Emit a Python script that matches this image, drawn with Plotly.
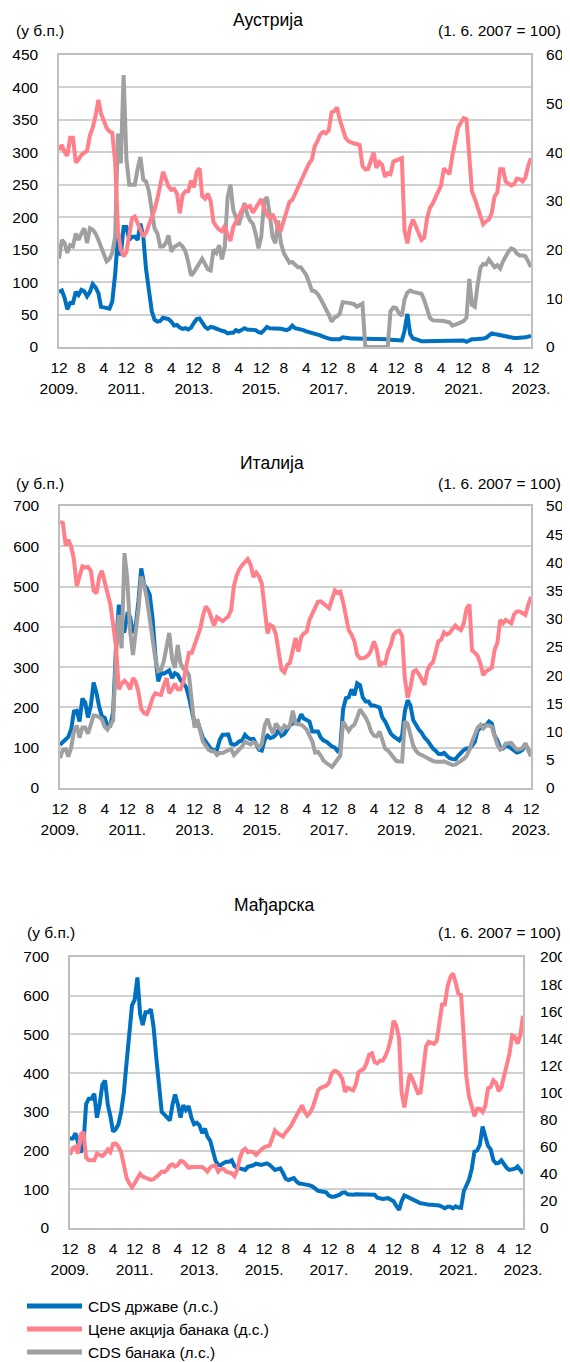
import pandas as pd
import plotly.graph_objects as go
from plotly.subplots import make_subplots

# monthly observations, Dec 2009 - Dec 2023
months = pd.date_range("2009-12-01", "2023-12-01", freq="MS")

# ---------------- Аустрија ----------------
aut_gov = [85,
    87, 75, 58, 68, 68, 85, 80, 88, 86, 78, 85, 97,
    92, 83, 62, 61, 60, 59, 70, 112, 170, 141, 185, 185,
    165, 170, 170, 165, 190, 170, 120, 85, 55, 42, 39, 40,
    45, 44, 43, 39, 33, 34, 30, 28, 29, 27, 30, 37,
    43, 44, 38, 31, 28, 31, 30, 28, 26, 25, 24, 21,
    22, 22, 26, 24, 26, 29, 27, 27, 27, 26, 23, 22,
    26, 31, 29, 29, 28, 28, 28, 27, 26, 28, 33, 29,
    28, 28, 26, 24, 23, 22, 20, 19, 18, 16, 14, 13,
    12, 12, 12, 12, 15, 14, 14, 13, 13, 13, 13, 13,
    13, 12, 12, 12, 12, 12, 12, 12, 12, 11, 11, 10,
    10, 10, 25, 51, 20, 13, 12, 10, 9, 9, 9, 10,
    10, 10, 10, 10, 10, 10, 10, 10, 10, 10, 10, 10,
    8, 11, 12, 12, 12, 12, 13, 14, 17, 21, 20, 19,
    18, 17, 17, 15, 14, 14, 14, 14, 15, 15, 16, 17]

aut_shares = [40.5,
    41.5, 40.0, 39.3, 43.0, 43.0, 37.9, 38.5, 39.5, 40.0, 40.3, 43.5, 45.0,
    47.5, 50.8, 48.0, 46.5, 45.0, 44.3, 44.0, 38.0, 24.0, 20.0, 18.6, 19.5,
    22.5, 26.5, 26.8, 25.5, 23.8, 22.7, 23.5, 25.0, 26.5, 28.2, 30.5, 32.8,
    36.0, 34.5, 33.0, 32.3, 32.5, 31.5, 27.5, 31.2, 32.0, 32.0, 34.2, 32.8,
    36.0, 36.7, 31.0, 30.5, 31.5, 30.0, 25.7, 24.8, 24.1, 23.8, 25.0, 23.0,
    21.8, 24.7, 25.6, 26.8, 28.0, 29.0, 28.8, 29.0, 27.6, 28.6, 29.5, 30.4,
    28.5, 27.2, 26.5, 27.3, 26.0, 24.3, 24.0, 25.8, 27.8, 29.8, 30.2, 31.5,
    33.0, 34.2, 35.2, 36.5, 37.7, 38.5, 41.2, 42.3, 43.7, 44.2, 43.9, 44.5,
    48.2, 48.5, 49.2, 46.6, 44.5, 43.0, 42.3, 42.0, 41.8, 41.7, 41.5, 37.2,
    36.5, 36.6, 38.5, 40.0, 36.8, 38.0, 37.5, 35.0, 35.7, 35.5, 38.1, 38.4,
    38.6, 38.8, 24.0, 21.3, 24.6, 26.2, 24.8, 23.3, 22.0, 22.5, 26.5, 28.6,
    29.5, 30.8, 32.2, 33.2, 36.7, 36.0, 35.5, 39.3, 42.3, 45.0, 46.1, 47.0,
    46.8, 38.0, 32.0, 30.5, 28.7, 27.1, 25.2, 25.8, 26.2, 27.5, 30.9, 31.8,
    36.5, 36.5, 34.0, 33.6, 33.2, 33.5, 34.6, 34.5, 34.0, 34.8, 37.3, 38.8]

aut_banks = [136,
    165, 160, 145, 157, 155, 175, 165, 175, 183, 160, 183, 181,
    175, 165, 155, 140, 132, 136, 145, 170, 329, 283, 419, 290,
    250, 250, 250, 275, 293, 258, 255, 240, 210, 183, 175, 155,
    155, 160, 172, 147, 154, 157, 159, 155, 147, 131, 110, 115,
    123, 131, 136, 128, 120, 118, 150, 145, 157, 135, 155, 230,
    250, 211, 200, 188, 203, 222, 205, 195, 190, 175, 152, 170,
    225, 231, 205, 170, 160, 195, 160, 145, 137, 130, 131, 127,
    123, 123, 118, 111, 100, 87, 86, 82, 75, 67, 60, 50,
    39, 45, 47, 52, 69, 69, 68, 67, 66, 62, 65, 67,
    0, 0, 0, 0, 0, 0, 0, 0, 0, 55, 61, 60,
    52, 48, 73, 84, 87, 85, 84, 82, 82, 72, 60, 45,
    41, 41, 41, 40, 40, 39, 38, 33, 34, 36, 38, 40,
    45, 105, 65, 62, 95, 122, 128, 127, 135, 130, 123, 126,
    121, 132, 140, 147, 152, 150, 144, 141, 141, 140, 132, 123]

# ---------------- Италија ----------------
ita_gov = [107,
    114, 124, 127, 145, 190, 192, 165, 222, 212, 175, 205, 262,
    236, 200, 178, 174, 155, 155, 190, 350, 455, 390, 390, 430,
    425, 385, 400, 465, 545, 505, 495, 480, 420, 330, 265, 285,
    284, 288, 292, 273, 285, 281, 268, 260, 250, 225, 190, 160,
    165, 140, 125, 115, 104, 96, 94, 95, 120, 132, 132, 133,
    110, 107, 110, 116, 118, 132, 125, 121, 122, 110, 95, 93,
    120, 130, 124, 126, 132, 145, 130, 134, 147, 156, 160, 162,
    166, 183, 172, 169, 165, 140, 140, 140, 125, 118, 115, 108,
    103, 100, 92, 100, 195, 223, 225, 245, 230, 260, 255, 225,
    215, 215, 205, 205, 202, 200, 175, 165, 150, 135, 128, 122,
    118, 130, 190, 218, 205, 168, 155, 145, 137, 125, 118, 108,
    98, 92, 85, 84, 87, 80, 74, 72, 71, 80, 88, 94,
    98, 99, 105, 115, 143, 150, 155, 156, 165, 160, 130, 118,
    100, 98, 105, 103, 97, 92, 88, 90, 95, 110, 92, 80]

ita_shares = [47.2,
    47.0, 43.0, 44.0, 42.8, 40.5, 35.8, 37.5, 39.3, 39.1, 39.2, 38.5, 35.0,
    34.5, 37.5, 38.5, 36.5, 34.8, 32.5, 29.0, 25.0, 17.5, 18.5, 19.0, 18.5,
    17.5, 19.5, 18.9, 17.0, 14.0, 13.3, 13.1, 14.3, 16.0, 16.8, 16.6, 16.5,
    18.2, 19.5, 16.8, 17.5, 18.5, 17.5, 17.5, 18.8, 21.5, 24.0, 24.0, 25.5,
    27.2, 28.3, 30.5, 32.2, 31.6, 30.0, 28.8, 30.3, 30.0, 29.6, 30.0, 30.4,
    31.5, 35.8, 37.6, 38.8, 39.5, 40.2, 40.6, 39.6, 37.4, 38.2, 37.5, 36.2,
    31.0, 27.4, 28.9, 28.6, 27.3, 24.2, 21.0, 20.5, 21.8, 22.2, 24.2, 26.6,
    24.2, 26.8, 27.4, 27.7, 29.8, 31.0, 32.0, 33.0, 33.1, 32.8, 32.3, 31.9,
    33.6, 35.0, 34.6, 34.8, 33.0, 30.5, 28.0, 27.2, 26.0, 23.6, 23.0, 23.0,
    23.2, 23.6, 24.4, 26.0, 24.6, 21.6, 22.2, 22.1, 24.2, 25.3, 27.2, 27.7,
    27.9, 27.0, 19.5, 16.0, 17.8, 20.6, 20.9, 20.2, 19.2, 18.3, 20.8, 21.8,
    22.3, 24.5, 26.0, 26.3, 27.6, 27.2, 27.5, 28.2, 28.8, 28.3, 28.0, 29.2,
    31.8, 32.5, 24.4, 24.0, 23.4, 22.0, 20.0, 20.7, 21.0, 21.3, 24.5, 25.7,
    29.8, 29.2, 29.8, 29.4, 29.2, 30.8, 31.3, 31.3, 31.0, 30.7, 32.5, 33.9]

ita_banks = [74,
    95, 96, 78, 100, 140, 155, 125, 150, 150, 135, 155, 180,
    179, 176, 170, 152, 145, 155, 168, 330, 430, 347, 583, 520,
    390, 330, 380, 445, 525, 505, 470, 420, 365, 322, 290, 293,
    315, 355, 385, 320, 298, 355, 310, 296, 292, 280, 215, 150,
    170, 135, 115, 105, 95, 91, 91, 82, 87, 87, 90, 93,
    97, 82, 88, 97, 103, 115, 112, 108, 114, 110, 100, 110,
    155, 172, 150, 135, 160, 150, 142, 155, 150, 155, 192, 160,
    159, 157, 152, 145, 130, 116, 88, 90, 80, 68, 62, 58,
    52, 62, 72, 80, 165, 152, 142, 152, 157, 175, 195, 185,
    175, 160, 140, 130, 128, 140, 120, 98, 93, 85, 75, 67,
    66, 66, 165, 160, 132, 105, 92, 85, 82, 78, 75, 70,
    67, 65, 64, 65, 66, 63, 60, 57, 58, 62, 67, 72,
    80, 95, 115, 135, 150, 157, 148, 155, 155, 152, 125, 107,
    95, 100, 110, 112, 112, 103, 95, 96, 100, 110, 92, 79]

# ---------------- Мађарска ----------------
hun_gov = [231,
    231, 245, 220, 195, 215, 320, 334, 334, 347, 285, 320, 370,
    381, 318, 290, 249, 255, 268, 300, 350, 428, 505, 575, 590,
    647, 552, 524, 557, 557, 565, 520, 440, 380, 300, 293, 287,
    278, 320, 345, 320, 285, 317, 305, 315, 285, 268, 272, 265,
    245, 257, 236, 226, 200, 173, 163, 163, 168, 171, 171, 175,
    160, 155, 154, 153, 150, 158, 159, 162, 166, 165, 163, 165,
    167, 163, 158, 150, 152, 154, 142, 127, 124, 126, 129, 120,
    115, 114, 113, 112, 110, 107, 101, 96, 95, 94, 92, 84,
    81, 81, 83, 86, 91, 92, 87, 86, 86, 87, 87, 87,
    87, 87, 86, 86, 86, 78, 76, 75, 76, 77, 73, 69,
    57, 47, 69, 84, 81, 77, 73, 70, 66, 64, 63, 61,
    60, 60, 60, 59, 58, 55, 51, 55, 55, 51, 56, 53,
    52, 95, 108, 125, 152, 197, 200, 215, 262, 240, 212, 203,
    175, 167, 168, 175, 163, 155, 150, 151, 153, 159, 148, 141]

hun_shares = [54,
    59, 60, 55, 69, 71, 52, 50, 50, 50, 55, 54, 53,
    55, 58, 56, 62, 62.4, 60, 56, 45, 37, 33, 30, 33,
    36.5, 40, 38, 37, 36, 35.5, 36, 37.5, 39.5, 41.6, 41.3, 43,
    46, 47, 45.3, 46.5, 49.5, 49, 47, 44.5, 45, 45, 44.5, 44.5,
    45, 43.5, 41.6, 44.5, 46, 46, 41.6, 43.5, 43.5, 41.6, 41, 40.4,
    38.3, 43, 51.4, 57, 58.5, 56, 56.5, 56, 54, 56.5, 58, 59.5,
    60.5, 61, 66, 72, 70, 68.5, 67.5, 70.5, 73, 75.5, 79.5, 83,
    87, 90.5, 86, 83, 85, 89, 95, 101.6, 103.5, 104, 105, 107,
    113.8, 116, 115.5, 113.5, 110, 100.4, 103.5, 102.5, 101.6, 106, 115, 116.5,
    117.5, 122, 128, 129, 122.5, 121.5, 123.5, 123.6, 127, 132, 140, 153,
    149.3, 140, 100, 89, 103, 114, 110, 104, 99.5, 100, 121, 134,
    137.5, 137, 135.9, 138, 150, 165, 165, 178, 185, 188, 181, 173,
    172, 135, 112, 97, 90, 82.5, 88, 88, 85.7, 90, 103, 104,
    109, 107, 101, 104, 112, 120, 128.5, 142, 141, 136, 142, 156.7]

x_tick_dates = ["2009-12-01", "2010-08-01", "2011-04-01", "2011-12-01", "2012-08-01",
                "2013-04-01", "2013-12-01", "2014-08-01", "2015-04-01", "2015-12-01",
                "2016-08-01", "2017-04-01", "2017-12-01", "2018-08-01", "2019-04-01",
                "2019-12-01", "2020-08-01", "2021-04-01", "2021-12-01", "2022-08-01",
                "2023-04-01", "2023-12-01"]
x_tick_text = ["12<br>2009.", "8", "4", "12<br>2011.", "8", "4", "12<br>2013.", "8", "4",
               "12<br>2015.", "8", "4", "12<br>2017.", "8", "4", "12<br>2019.", "8", "4",
               "12<br>2021.", "8", "4", "12<br>2023."]

series_names = ["CDS државе (л.с.)", "Цене акција банака (д.с.)", "CDS банака (л.с.)"]
colors = ["#0070C0", "#FF7F8A", "#A0A0A0"]

panels = [
    ("Аустрија", aut_gov, aut_shares, aut_banks, [0, 450], 50, [0, 60], 10),
    ("Италија", ita_gov, ita_shares, ita_banks, [0, 700], 100, [0, 50], 5),
    ("Мађарска", hun_gov, hun_shares, None, [0, 700], 100, [0, 200], 20),
]

for p in panels:
    for s in p[1:4]:
        if s is not None:
            assert len(s) == len(months), (p[0], len(s))

# the page body adds an 8px offset, so the figure is 8px smaller than the window
PAD = 8
W, H = 570 - PAD, 1362 - PAD


def px_x(x):
    return (x - PAD) / W


def px_y(y):
    return 1 - (y - PAD) / H


# plot area boxes in window pixels: (left, right, top, bottom)
boxes = [(59, 531, 55, 347), (60, 531, 506, 788), (70, 523, 957, 1228)]
right_gap = [11, 11, 13]
title_x = [268, 272, 274]
title_y = [20, 463, 905]
unit_y = [31, 483, 932]
unit_left_x = [14, 14, 25]

fig = make_subplots(rows=3, cols=1, specs=[[{"secondary_y": True}]] * 3)

FONT = "Liberation Sans, Arial, sans-serif"
grid_col = "#D0D0D0"
frame_col = "#BFBFBF"
tick_font = dict(family=FONT, size=15.5, color="#000")
clear = "rgba(0,0,0,0)"

for i, (title, gov, shares, banks, lrange, ldtick, rrange, rdtick) in enumerate(panels):
    row = i + 1
    fig.add_trace(go.Scatter(x=months, y=gov, mode="lines", name=series_names[0],
                             line=dict(color=colors[0], width=4), showlegend=False),
                  row=row, col=1, secondary_y=False)
    if banks is not None:
        fig.add_trace(go.Scatter(x=months, y=banks, mode="lines", name=series_names[2],
                                 line=dict(color=colors[2], width=4), showlegend=False),
                      row=row, col=1, secondary_y=False)
    fig.add_trace(go.Scatter(x=months, y=shares, mode="lines", name=series_names[1],
                             line=dict(color=colors[1], width=4), showlegend=False),
                  row=row, col=1, secondary_y=True)

    l, r, t, b = boxes[i]
    xa = "xaxis" if i == 0 else "xaxis%d" % (i + 1)
    yl = "yaxis" if i == 0 else "yaxis%d" % (2 * i + 1)
    yr = "yaxis%d" % (2 * i + 2)
    fig.update_layout(**{
        xa: dict(domain=[px_x(l), px_x(r)], range=["2009-12-01", "2023-12-01"],
                 tickvals=x_tick_dates, ticktext=x_tick_text, tickangle=0,
                 showgrid=False, showline=True, mirror=True, linecolor=frame_col,
                 linewidth=1.5, ticks="outside", ticklen=6, tickcolor=clear,
                 automargin=False, tickfont=tick_font),
        yl: dict(domain=[px_y(b), px_y(t)], range=lrange, dtick=ldtick,
                 showgrid=True, gridcolor=grid_col, gridwidth=1.5, zeroline=False,
                 showline=True, mirror=True, linecolor=frame_col, linewidth=1.5,
                 ticks="outside", ticklen=16, tickcolor=clear,
                 automargin=False, tickfont=tick_font),
        yr: dict(range=rrange, dtick=rdtick, showgrid=False, zeroline=False,
                 ticks="outside", ticklen=right_gap[i], tickcolor=clear,
                 automargin=False, tickfont=tick_font),
    })

    fig.add_annotation(x=px_x(title_x[i]), y=px_y(title_y[i]), xref="paper", yref="paper",
                       text=title, showarrow=False, xanchor="center", yanchor="middle",
                       font=dict(family=FONT, size=17.5, color="#000"))
    fig.add_annotation(x=px_x(unit_left_x[i]), y=px_y(unit_y[i]), xref="paper", yref="paper",
                       text="(у б.п.)", showarrow=False, xanchor="left", yanchor="middle",
                       font=tick_font)
    fig.add_annotation(x=px_x(563), y=px_y(unit_y[i]), xref="paper", yref="paper",
                       text="(1. 6. 2007 = 100)", showarrow=False, xanchor="right", yanchor="middle",
                       font=tick_font)

# legend drawn below the last panel
legend_y = [1306, 1329, 1352]
for k in range(3):
    fig.add_shape(type="line", xref="paper", yref="paper",
                  x0=px_x(27), x1=px_x(82), y0=px_y(legend_y[k]), y1=px_y(legend_y[k]),
                  line=dict(color=colors[k], width=5))
    fig.add_annotation(x=px_x(86), y=px_y(legend_y[k]), xref="paper", yref="paper",
                       text=series_names[k], showarrow=False, xanchor="left", yanchor="middle",
                       font=tick_font)

fig.update_layout(width=W, height=H,
                  margin=dict(l=0, r=0, t=0, b=0, pad=0, autoexpand=False),
                  paper_bgcolor="white", plot_bgcolor="white", showlegend=False)

fig.write_html("out.html")
